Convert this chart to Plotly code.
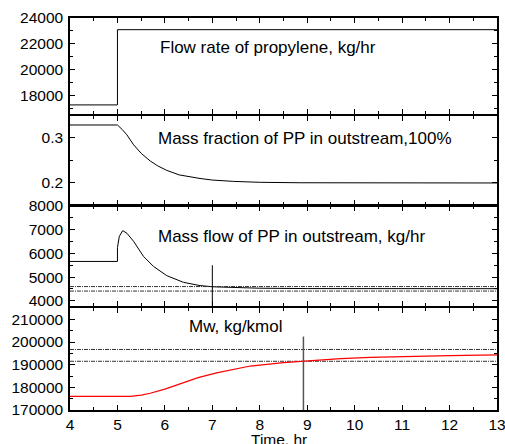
import plotly.graph_objects as go

# ---------------- data ----------------
t_flow = [4, 5, 5, 13]
flow = [17300, 17300, 23100, 23100]

t_frac = [4, 5.0, 5.1, 5.2, 5.34, 5.5, 5.69, 5.85, 6.04, 6.3, 6.74, 7.0, 7.45, 8.0, 8.85, 10, 13]
frac = [0.328, 0.328, 0.318, 0.306, 0.284, 0.265, 0.248, 0.237, 0.227, 0.217, 0.209, 0.2055,
        0.2025, 0.2005, 0.1995, 0.199, 0.199]

t_mflow = [4, 5.0, 5.0, 5.04, 5.11, 5.2, 5.34, 5.55, 5.76, 6.04, 6.39, 6.74, 7.02, 7.45, 8.0, 9, 10, 13]
mflow = [5660, 5660, 6250, 6720, 6960, 6850, 6510, 5870, 5450, 5060, 4780, 4640, 4590, 4550,
         4530, 4515, 4510, 4510]
mflow_refs = [4600, 4410]
mflow_vline_t = 7.0
mflow_vline_top = 5500

t_mw = [4, 5.27, 5.5, 5.69, 6.0, 6.39, 6.7, 7.09, 7.45, 7.8, 8.5, 8.92, 9.7, 10.33, 11, 12, 13]
mw = [176000, 176000, 176600, 177400, 179200, 182200, 184300, 186400, 188000, 189400, 190900,
      191500, 192700, 193200, 193600, 194000, 194300]
mw_refs = [196700, 191500]
mw_vline_t = 8.92
mw_vline_top = 202400

x_range = [4, 13]
labels = ["Flow rate of propylene, kg/hr",
          "Mass fraction of PP in outstream,100%",
          "Mass flow of PP in outstream, kg/hr",
          "Mw, kg/kmol"]

# ---------------- figure ----------------
FONT = "Liberation Sans, Arial, sans-serif"
fig = go.Figure()

line_k = dict(color="black", width=1)
dash_k = dict(color="#333333", width=1, dash="4px,1px,1px,1px")

fig.add_trace(go.Scatter(x=t_flow, y=flow, mode="lines", line=line_k, xaxis="x", yaxis="y"))
fig.add_trace(go.Scatter(x=t_frac, y=frac, mode="lines", line=line_k, xaxis="x2", yaxis="y2"))
fig.add_trace(go.Scatter(x=t_mflow, y=mflow, mode="lines", line=line_k, xaxis="x3", yaxis="y3"))
for v in mflow_refs:
    fig.add_trace(go.Scatter(x=x_range, y=[v, v], mode="lines", line=dash_k, xaxis="x3", yaxis="y3"))
fig.add_trace(go.Scatter(x=[mflow_vline_t, mflow_vline_t], y=[3000, mflow_vline_top], mode="lines",
                         line=dict(color="black", width=1), xaxis="x3", yaxis="y3"))

for v in mw_refs:
    fig.add_trace(go.Scatter(x=x_range, y=[v, v], mode="lines", line=dash_k, xaxis="x4", yaxis="y4"))
fig.add_trace(go.Scatter(x=t_mw, y=mw, mode="lines", line=dict(color="#ff0000", width=1.2),
                         xaxis="x4", yaxis="y4"))
fig.add_trace(go.Scatter(x=[mw_vline_t, mw_vline_t], y=[160000, mw_vline_top], mode="lines",
                         line=dict(color="#555555", width=1.5), xaxis="x4", yaxis="y4"))

def xax(anchor, show):
    return dict(range=x_range, dtick=1, tick0=4, ticks="inside", ticklen=5, tickwidth=1,
                tickcolor="black", showticklabels=show, showline=True, linecolor="black",
                linewidth=1.5, mirror="ticks", showgrid=False, zeroline=False, anchor=anchor,
                automargin=False, ticklabeloverflow="allow",
                minor=dict(dtick=0.5, ticks="inside", ticklen=3, tickcolor="black", showgrid=False),
                tickfont=dict(family=FONT, size=15.5, color="black"), domain=[0, 1])

def yax(rng, dtick, minor, dom, anchor):
    return dict(range=rng, dtick=dtick, ticks="inside", ticklen=5, tickwidth=1,
                tickcolor="black", showline=True, linecolor="black", linewidth=1.5,
                mirror="ticks", showgrid=False, zeroline=False, anchor=anchor, domain=dom,
                automargin=False, tickformat="d", ticklabeloverflow="allow",
                minor=dict(dtick=minor, ticks="inside", ticklen=3, tickcolor="black", showgrid=False),
                tickfont=dict(family=FONT, size=15.5, color="black"), ticklabelstandoff=2)

# pixel boundaries -> paper: plot area top 18, bottom 410
def dom(top_px, bot_px):
    H = 392.0
    return [(410 - bot_px) / H, (410 - top_px) / H]

fig.update_layout(
    width=505, height=444,
    margin=dict(l=70, r=8, t=18, b=34, autoexpand=False),
    paper_bgcolor="white", plot_bgcolor="white",
    showlegend=False,
    font=dict(family=FONT, color="black"),
    xaxis=xax("y", False),
    xaxis2=xax("y2", False),
    xaxis3=xax("y3", False),
    xaxis4=xax("y4", True),
    yaxis=yax([16600, 24000], 2000, 1000, dom(18, 114), "x"),
    yaxis2=yax([0.15, 0.348], 0.1, 0.05, dom(116, 205), "x2"),
    yaxis3=yax([3780, 8000], 1000, 500, dom(206, 306), "x3"),
    yaxis4=yax([170000, 215000], 10000, 5000, dom(308, 410), "x4"),
)

fig.update_layout(yaxis2=dict(tickformat=".1f"))

ann_pos = [("x", "y", 5.855, 21690), ("x2", "y2", 5.81, 0.299),
           ("x3", "y3", 5.81, 6717), ("x4", "y4", 6.47, 206860)]
for (xr, yr, xv, yv), txt in zip(ann_pos, labels):
    fig.add_annotation(x=xv, y=yv, xref=xr, yref=yr, text=txt, showarrow=False,
                       xanchor="left", yanchor="middle",
                       font=dict(family=FONT, size=17, color="black"))

fig.add_annotation(x=0.49, y=(410 - 439) / 392.0, xref="paper", yref="paper", text="Time, hr",
                   showarrow=False, xanchor="center", yanchor="middle",
                   font=dict(family=FONT, size=15.5, color="black"))

# remove the default page margin so the 505x444 figure fills the window exactly
page_js = "document.body.style.margin='0';document.body.style.overflow='hidden';"
fig.write_html("out.html", post_script=page_js, config={"displayModeBar": False})
